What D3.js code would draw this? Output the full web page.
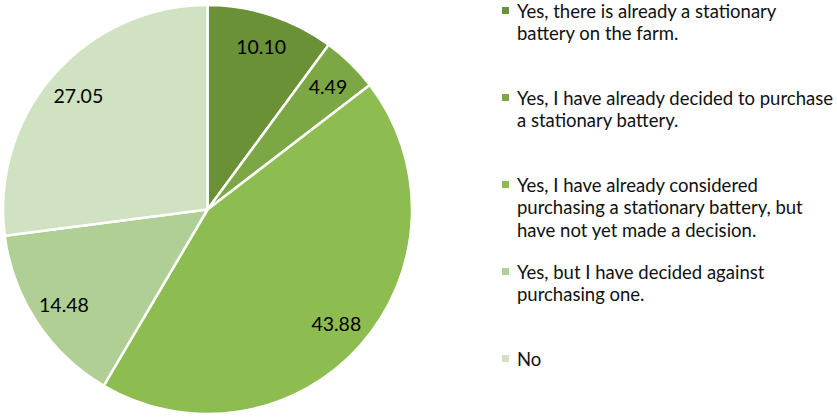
<!DOCTYPE html>
<html>
<head>
<meta charset="utf-8">
<script src="https://cdn.jsdelivr.net/npm/d3@7"></script>
<style>
  body { margin: 0; background: #fff; }
  svg { display: block; font-family: Lato, "Open Sans", sans-serif; }
</style>
</head>
<body>
<div id="chart"></div>
<script>
// Chart data
const categories = [
    "Yes, there is already a stationary battery on the farm.",
    "Yes, I have already decided to purchase a stationary battery.",
    "Yes, I have already considered purchasing a stationary battery, but have not yet made a decision.",
    "Yes, but I have decided against purchasing one.",
    "No"
];
const legendLines = [
    ["Yes, there is already a stationary", "battery on the farm."],
    ["Yes, I have already decided to purchase", "a stationary battery."],
    ["Yes, I have already considered", "purchasing a stationary battery, but", "have not yet made a decision."],
    ["Yes, but I have decided against", "purchasing one."],
    ["No"]
];
const values = [10.10, 4.49, 43.88, 14.48, 27.05];
const colors = ["#6a9136", "#7ba845", "#8dbc51", "#afcf94", "#d0e2c2"];

const width = 837, height = 418;
const cx = 207.5, cy = 209.5, radius = 204.5;

const svg = d3.select("#chart")
    .append("svg")
    .attr("width", width)
    .attr("height", height);

const data = values.map((v, i) => ({ label: categories[i], value: v, color: colors[i], lines: legendLines[i] }));

const pie = d3.pie().value(d => d.value).sort(null);
const arc = d3.arc().innerRadius(0).outerRadius(radius);
const labelArc = d3.arc().innerRadius(172).outerRadius(172);

const g = svg.append("g").attr("transform", `translate(${cx},${cy})`);

g.selectAll("path")
    .data(pie(data))
    .join("path")
    .attr("d", arc)
    .attr("fill", d => d.data.color)
    .attr("stroke", "#fff")
    .attr("stroke-width", 2.5)
    .attr("stroke-linejoin", "round");

g.selectAll("text")
    .data(pie(data))
    .join("text")
    .attr("transform", d => `translate(${labelArc.centroid(d)})`)
    .attr("text-anchor", "middle")
    .attr("dominant-baseline", "central")
    .attr("fill", "#000")
    .style("font-size", "19.5px")
    .text(d => d.data.value.toFixed(2));

// Legend
const legendX = 502, legendTop = 10.5, slot = 87, lineH = 22.5;
const legend = svg.append("g");

const items = legend.selectAll("g")
    .data(data)
    .join("g")
    .attr("transform", (d, i) => `translate(${legendX},${legendTop + i * slot})`);

items.append("rect")
    .attr("x", 0)
    .attr("y", -3.5)
    .attr("width", 7)
    .attr("height", 7)
    .attr("fill", d => d.color);

items.each(function(d) {
    d3.select(this).selectAll("text")
        .data(d.lines)
        .join("text")
        .attr("x", 15)
        .attr("y", (t, j) => j * lineH)
        .attr("dominant-baseline", "central")
        .attr("fill", "#111")
        .style("font-size", "18.5px")
        .text(t => t);
});
</script>
</body>
</html>
